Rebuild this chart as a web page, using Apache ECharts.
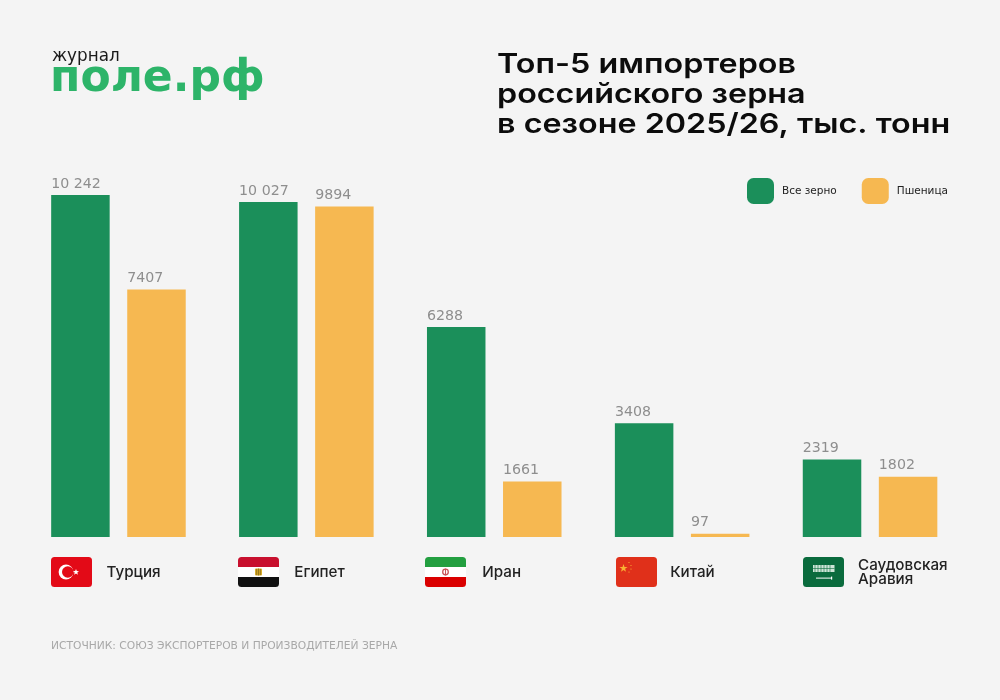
<!DOCTYPE html>
<html><head><meta charset="utf-8">
<style>html,body{margin:0;padding:0;background:#f4f4f4}#c{width:1000px;height:700px}</style>
<script src="https://cdn.jsdelivr.net/npm/echarts@6/dist/echarts.min.js"></script>
</head><body><div id="c"></div>
<script>
const countries = ['Турция','Египет','Иран','Китай','Саудовская\nАравия'];
const allGrain = [10242,10027,6288,3408,2319];
const wheat = [7407,9894,1661,97,1802];
const seriesNames = ['Все зерно','Пшеница'];
const titleText = 'Топ-5 импортеров\nроссийского зерна\nв сезоне 2025/26, тыс. тонн';
const sourceText = 'ИСТОЧНИК: СОЮЗ ЭКСПОРТЕРОВ И ПРОИЗВОДИТЕЛЕЙ ЗЕРНА';

function svg(body){
  return 'data:image/svg+xml;charset=utf-8,'+encodeURIComponent(
   '<svg xmlns="http://www.w3.org/2000/svg" width="164" height="120" viewBox="0 0 41 30"><defs><clipPath id="r"><rect width="41" height="30" rx="3.5"/></clipPath></defs><g clip-path="url(#r)">'+body+'</g></svg>');
}
const flags = [
 svg('<rect width="41" height="30" fill="#e30a17"/><circle cx="15" cy="15" r="7.4" fill="#fff"/><circle cx="16.8" cy="15" r="5.8" fill="#e30a17"/><polygon fill="#fff" points="25,12 25.8,14.1 28,14.2 26.3,15.6 26.9,17.8 25,16.6 23.1,17.8 23.7,15.6 22,14.2 24.2,14.1"/>'),
 svg('<rect width="41" height="10" fill="#c8102e"/><rect y="10" width="41" height="10" fill="#fff"/><rect y="20" width="41" height="10" fill="#111"/><rect x="17" y="11.4" width="7" height="7.2" rx="1" fill="#d9ad2b"/><path d="M20.5 11.5v7M18.7 12v6M22.3 12v6" stroke="#6d5510" stroke-width=".6"/>'),
 svg('<rect width="41" height="10" fill="#239f40"/><rect y="10" width="41" height="10" fill="#fff"/><rect y="20" width="41" height="10" fill="#da0000"/><circle cx="20.5" cy="15" r="2.8" fill="none" stroke="#c9555a" stroke-width="1.3"/><rect x="20" y="11.6" width="1" height="6.8" fill="#c9555a"/>'),
 svg('<rect width="41" height="30" fill="#e0301a"/><polygon fill="#f9b233" points="7.5,7 8.5,9.9 11.6,9.9 9.1,11.8 10,14.8 7.5,13 5,14.8 5.9,11.8 3.4,9.9 6.5,9.9"/><circle cx="13" cy="5.5" r=".6" fill="#f9b233"/><circle cx="15" cy="8.5" r=".6" fill="#f9b233"/><circle cx="15" cy="12" r=".6" fill="#f9b233"/><circle cx="13" cy="15" r=".6" fill="#f9b233"/>'),
 svg('<rect width="41" height="30" fill="#0a6b3d"/><rect x="10" y="8" width="21.5" height="7" fill="#cfe5d8"/><path d="M12 8v7M15 8v7M18 8v7M21 8v7M24 8v7M27 8v7M10 11.5h21.5" stroke="#0a6b3d" stroke-width=".6"/><rect x="13" y="20.6" width="16" height="1" fill="#fff"/><rect x="28" y="19.6" width="1.2" height="3" fill="#fff"/>')
];
const flagLefts = [51,238,425,616,803];
const fmt = v => v >= 10000 ? String(v).replace(/(\d{3})$/,' $1') : String(v);
const labelStyle = {show:true,position:[0,-11],align:'left',verticalAlign:'middle',color:'#8e8e8e',fontSize:14.2,fontFamily:'"DejaVu Sans"',formatter:p=>fmt(p.value)};

const chart = echarts.init(document.getElementById('c'),null,{renderer:'canvas'});
chart.setOption({
  backgroundColor:'#f4f4f4',
  animation:false,
  legend:{left:747,top:178,padding:0,itemWidth:27,itemHeight:26,itemGap:25,icon:'roundRect',
    textStyle:{fontFamily:'"DejaVu Sans"',fontSize:10.5,color:'#222',padding:[0,0,0,3]},data:seriesNames},
  grid:{left:24.5,right:36,top:136.2,height:400.8},
  xAxis:{type:'category',data:countries,axisLine:{show:false},axisTick:{show:false},
    axisLabel:{interval:0,margin:35.5,verticalAlign:'middle',align:'center',color:'#222',
      formatter:v=>v.split('\n').map(l=>'{n|'+l+'}').join('\n'),
      rich:{n:{width:24,align:'left',fontFamily:'Inter',fontWeight:500,fontSize:15.2,lineHeight:14,color:'#222'}}}},
  yAxis:{type:'value',min:0,max:12000,show:false},
  series:[
    {name:seriesNames[0],type:'bar',data:allGrain,barWidth:58.5,barGap:'30%',itemStyle:{color:'#1b8f5a'},label:labelStyle},
    {name:seriesNames[1],type:'bar',data:wheat,barWidth:58.5,barGap:'30%',itemStyle:{color:'#f6b851'},label:labelStyle}
  ],
  graphic:[
    {type:'text',x:497,y:50,scaleX:1.174,style:{text:titleText,font:'600 27.5px Inter',lineHeight:30,fill:'#0c0c0c'}},
    {type:'text',x:52,y:48,style:{text:'журнал',font:'400 16.8px "DejaVu Sans"',fill:'#1a1a1a'}},
    {type:'text',x:50,y:58,style:{text:'поле.рф',font:'700 44px "DejaVu Sans"',fill:'#2db469'}},
    {type:'text',x:51,y:641,style:{text:sourceText,font:'400 10.7px "DejaVu Sans"',fill:'#a8a8a8'}},
    ...flags.map((f,i)=>({type:'image',x:flagLefts[i],y:557,style:{image:f,width:41,height:30}}))
  ]
});
</script></body></html>
